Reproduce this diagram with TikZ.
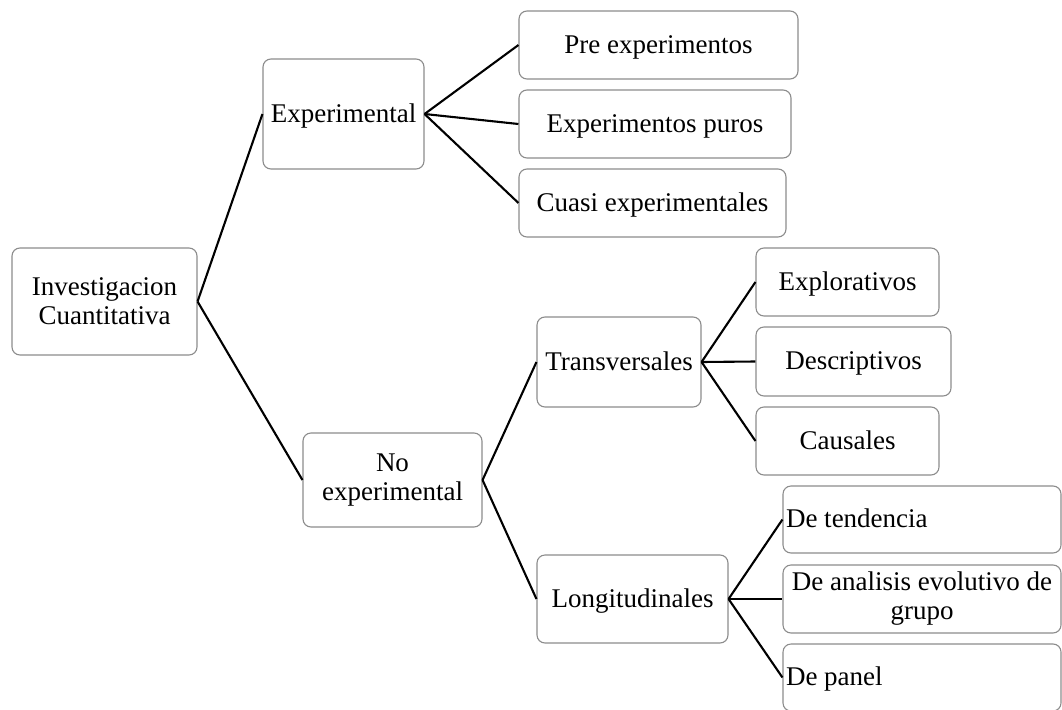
\documentclass[tikz,border=0pt]{standalone}
\usepackage{fontspec}
\setmainfont{Liberation Serif}
\definecolor{boxgray}{HTML}{8C8C8C}
\begin{document}
\begin{tikzpicture}[x=1pt,y=-1pt,
  box/.style={draw=boxgray, line width=1.1pt, rounded corners=8pt, inner sep=0pt,
    align=center, font=\fontsize{27}{29}\selectfont},
  onebox/.style={box, text height=20pt, text depth=4pt},
  leftbox/.style={onebox, inner xsep=3pt, text width=272pt, align=flush left},
  link/.style={line width=2.1pt, black}]
\useasboundingbox (0,0) rectangle (1062,709);
\clip (0,0) rectangle (1062,709);

% root and first level
\node[box, minimum width=185, minimum height=107] (inv) at (104.5,301.5) {Investigacion\\Cuantitativa};
\node[onebox, minimum width=161, minimum height=110] (exp) at (343.5,114) {Experimental};
\node[box, minimum width=179, minimum height=94] (noexp) at (392.5,480) {No\\experimental};

% experimental designs
\node[onebox, minimum width=279, minimum height=68] (pre) at (658.5,45) {Pre experimentos};
\node[onebox, minimum width=272, minimum height=68] (puros) at (655,124) {Experimentos puros};
\node[onebox, minimum width=267, minimum height=68] (cuasi) at (652.5,203) {Cuasi experimentales};

% non-experimental designs
\node[onebox, minimum width=164, minimum height=90] (trans) at (619,362) {Transversales};
\node[onebox, minimum width=191, minimum height=88] (longi) at (632.5,599) {Longitudinales};

\node[onebox, minimum width=183, minimum height=68] (explo) at (847.5,282) {Explorativos};
\node[onebox, minimum width=195, minimum height=69] (desc) at (853.5,361.5) {Descriptivos};
\node[onebox, minimum width=183, minimum height=68] (caus) at (847.5,441) {Causales};

\node[leftbox, minimum height=67] (tend) at (922,519.5) {De tendencia};
\node[box, text width=274pt, inner xsep=2pt, align=flush center, minimum height=68] (anal) at (922,599) {De analisis evolutivo de grupo};
\node[leftbox, minimum height=67] (panel) at (922,677.5) {De panel};

% connectors
\draw[link] (inv.east) -- (exp.west);
\draw[link] (inv.east) -- (noexp.west);
\draw[link] (exp.east) -- (pre.west);
\draw[link] (exp.east) -- (puros.west);
\draw[link] (exp.east) -- (cuasi.west);
\draw[link] (noexp.east) -- (trans.west);
\draw[link] (noexp.east) -- (longi.west);
\draw[link] (trans.east) -- (explo.west);
\draw[link] (trans.east) -- (desc.west);
\draw[link] (trans.east) -- (caus.west);
\draw[link] (longi.east) -- (tend.west);
\draw[link] (longi.east) -- (anal.west);
\draw[link] (longi.east) -- (panel.west);
\end{tikzpicture}
\end{document}
